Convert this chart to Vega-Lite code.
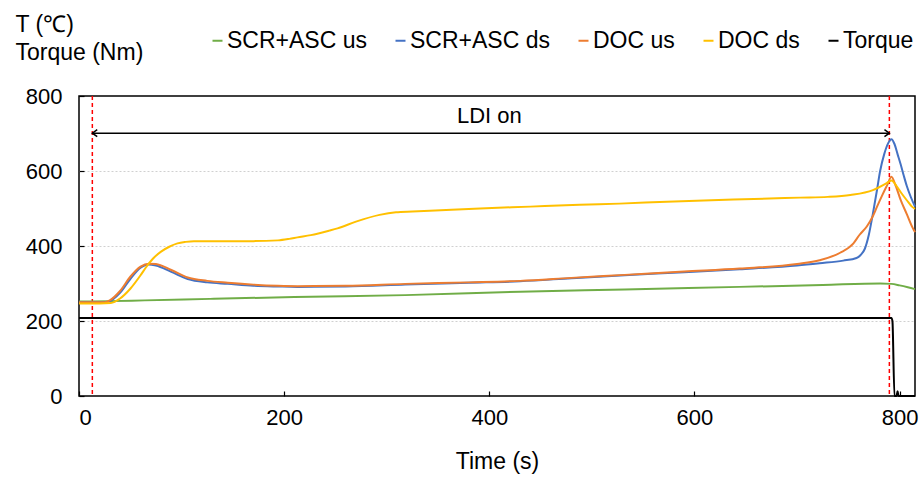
{
  "$schema": "https://vega.github.io/schema/vega-lite/v6.json",
  "width": 836,
  "height": 300,
  "autosize": {"type": "none"},
  "padding": {"left": 79, "top": 96, "right": 6, "bottom": 81},
  "background": "white",
  "config": {
    "font": "Liberation Sans",
    "view": {"stroke": "#000000", "strokeWidth": 1.5},
    "axis": {
      "labelFont": "Liberation Sans",
      "titleFont": "Liberation Sans",
      "labelFontSize": 22,
      "titleFontSize": 23,
      "labelColor": "#000000",
      "titleColor": "#000000",
      "titleFontWeight": "normal",
      "domain": false,
      "tickColor": "#000000",
      "tickWidth": 1.2
    },
    "legend": {
      "labelFont": "Liberation Sans",
      "labelFontSize": 23,
      "labelColor": "#000000"
    }
  },
  "datasets": {
    "series": [
      {"t": 0, "v": 208, "s": "Torque"},
      {"t": 792, "v": 208, "s": "Torque"},
      {"t": 793, "v": 200, "s": "Torque"},
      {"t": 795, "v": 0, "s": "Torque"},
      {"t": 797, "v": 0, "s": "Torque"},
      {"t": 798, "v": 13, "s": "Torque"},
      {"t": 799, "v": 0, "s": "Torque"},
      {"t": 815, "v": 0, "s": "Torque"},

      {"t": 0, "v": 252, "s": "SCR+ASC us"},
      {"t": 30, "v": 253, "s": "SCR+ASC us"},
      {"t": 64, "v": 255, "s": "SCR+ASC us"},
      {"t": 128, "v": 259, "s": "SCR+ASC us"},
      {"t": 210, "v": 264, "s": "SCR+ASC us"},
      {"t": 318, "v": 269, "s": "SCR+ASC us"},
      {"t": 430, "v": 278, "s": "SCR+ASC us"},
      {"t": 532, "v": 284, "s": "SCR+ASC us"},
      {"t": 644, "v": 291, "s": "SCR+ASC us"},
      {"t": 725, "v": 296, "s": "SCR+ASC us"},
      {"t": 781, "v": 300, "s": "SCR+ASC us"},
      {"t": 792, "v": 299, "s": "SCR+ASC us"},
      {"t": 800, "v": 295, "s": "SCR+ASC us"},
      {"t": 808, "v": 290, "s": "SCR+ASC us"},
      {"t": 815, "v": 285, "s": "SCR+ASC us"},

      {"t": 0, "v": 250, "s": "SCR+ASC ds"},
      {"t": 20, "v": 250, "s": "SCR+ASC ds"},
      {"t": 28, "v": 251, "s": "SCR+ASC ds"},
      {"t": 40, "v": 275, "s": "SCR+ASC ds"},
      {"t": 50, "v": 312, "s": "SCR+ASC ds"},
      {"t": 60, "v": 342, "s": "SCR+ASC ds"},
      {"t": 68, "v": 351, "s": "SCR+ASC ds"},
      {"t": 75, "v": 348, "s": "SCR+ASC ds"},
      {"t": 90, "v": 331, "s": "SCR+ASC ds"},
      {"t": 106, "v": 312, "s": "SCR+ASC ds"},
      {"t": 125, "v": 303, "s": "SCR+ASC ds"},
      {"t": 145, "v": 299, "s": "SCR+ASC ds"},
      {"t": 170, "v": 294, "s": "SCR+ASC ds"},
      {"t": 194, "v": 292, "s": "SCR+ASC ds"},
      {"t": 213, "v": 291, "s": "SCR+ASC ds"},
      {"t": 260, "v": 292, "s": "SCR+ASC ds"},
      {"t": 318, "v": 297, "s": "SCR+ASC ds"},
      {"t": 380, "v": 302, "s": "SCR+ASC ds"},
      {"t": 430, "v": 306, "s": "SCR+ASC ds"},
      {"t": 480, "v": 314, "s": "SCR+ASC ds"},
      {"t": 532, "v": 322, "s": "SCR+ASC ds"},
      {"t": 590, "v": 330, "s": "SCR+ASC ds"},
      {"t": 644, "v": 338, "s": "SCR+ASC ds"},
      {"t": 700, "v": 348, "s": "SCR+ASC ds"},
      {"t": 722, "v": 354, "s": "SCR+ASC ds"},
      {"t": 745, "v": 361, "s": "SCR+ASC ds"},
      {"t": 758, "v": 368, "s": "SCR+ASC ds"},
      {"t": 762, "v": 376, "s": "SCR+ASC ds"},
      {"t": 766, "v": 392, "s": "SCR+ASC ds"},
      {"t": 770, "v": 430, "s": "SCR+ASC ds"},
      {"t": 774, "v": 487, "s": "SCR+ASC ds"},
      {"t": 778, "v": 550, "s": "SCR+ASC ds"},
      {"t": 781, "v": 600, "s": "SCR+ASC ds"},
      {"t": 785, "v": 645, "s": "SCR+ASC ds"},
      {"t": 789, "v": 675, "s": "SCR+ASC ds"},
      {"t": 792, "v": 685, "s": "SCR+ASC ds"},
      {"t": 795, "v": 672, "s": "SCR+ASC ds"},
      {"t": 798, "v": 645, "s": "SCR+ASC ds"},
      {"t": 801, "v": 618, "s": "SCR+ASC ds"},
      {"t": 804, "v": 588, "s": "SCR+ASC ds"},
      {"t": 807, "v": 560, "s": "SCR+ASC ds"},
      {"t": 811, "v": 530, "s": "SCR+ASC ds"},
      {"t": 815, "v": 505, "s": "SCR+ASC ds"},

      {"t": 0, "v": 250, "s": "DOC us"},
      {"t": 25, "v": 250, "s": "DOC us"},
      {"t": 30, "v": 255, "s": "DOC us"},
      {"t": 40, "v": 280, "s": "DOC us"},
      {"t": 50, "v": 318, "s": "DOC us"},
      {"t": 60, "v": 345, "s": "DOC us"},
      {"t": 68, "v": 353, "s": "DOC us"},
      {"t": 75, "v": 352, "s": "DOC us"},
      {"t": 90, "v": 336, "s": "DOC us"},
      {"t": 106, "v": 316, "s": "DOC us"},
      {"t": 125, "v": 307, "s": "DOC us"},
      {"t": 145, "v": 302, "s": "DOC us"},
      {"t": 170, "v": 297, "s": "DOC us"},
      {"t": 194, "v": 294, "s": "DOC us"},
      {"t": 213, "v": 293, "s": "DOC us"},
      {"t": 260, "v": 294, "s": "DOC us"},
      {"t": 318, "v": 299, "s": "DOC us"},
      {"t": 380, "v": 303, "s": "DOC us"},
      {"t": 430, "v": 307, "s": "DOC us"},
      {"t": 480, "v": 315, "s": "DOC us"},
      {"t": 532, "v": 323, "s": "DOC us"},
      {"t": 590, "v": 332, "s": "DOC us"},
      {"t": 644, "v": 340, "s": "DOC us"},
      {"t": 700, "v": 352, "s": "DOC us"},
      {"t": 722, "v": 362, "s": "DOC us"},
      {"t": 742, "v": 382, "s": "DOC us"},
      {"t": 755, "v": 407, "s": "DOC us"},
      {"t": 761, "v": 430, "s": "DOC us"},
      {"t": 768, "v": 452, "s": "DOC us"},
      {"t": 774, "v": 480, "s": "DOC us"},
      {"t": 778, "v": 505, "s": "DOC us"},
      {"t": 783, "v": 535, "s": "DOC us"},
      {"t": 788, "v": 563, "s": "DOC us"},
      {"t": 792, "v": 585, "s": "DOC us"},
      {"t": 796, "v": 562, "s": "DOC us"},
      {"t": 801, "v": 523, "s": "DOC us"},
      {"t": 807, "v": 485, "s": "DOC us"},
      {"t": 813, "v": 447, "s": "DOC us"},
      {"t": 815, "v": 437, "s": "DOC us"},

      {"t": 0, "v": 247, "s": "DOC ds"},
      {"t": 20, "v": 247, "s": "DOC ds"},
      {"t": 31, "v": 248, "s": "DOC ds"},
      {"t": 40, "v": 260, "s": "DOC ds"},
      {"t": 50, "v": 286, "s": "DOC ds"},
      {"t": 60, "v": 322, "s": "DOC ds"},
      {"t": 65, "v": 342, "s": "DOC ds"},
      {"t": 72, "v": 366, "s": "DOC ds"},
      {"t": 80, "v": 385, "s": "DOC ds"},
      {"t": 88, "v": 398, "s": "DOC ds"},
      {"t": 96, "v": 407, "s": "DOC ds"},
      {"t": 104, "v": 411, "s": "DOC ds"},
      {"t": 112, "v": 413, "s": "DOC ds"},
      {"t": 140, "v": 413, "s": "DOC ds"},
      {"t": 170, "v": 413, "s": "DOC ds"},
      {"t": 194, "v": 415, "s": "DOC ds"},
      {"t": 205, "v": 419, "s": "DOC ds"},
      {"t": 213, "v": 423, "s": "DOC ds"},
      {"t": 226, "v": 429, "s": "DOC ds"},
      {"t": 244, "v": 441, "s": "DOC ds"},
      {"t": 252, "v": 447, "s": "DOC ds"},
      {"t": 270, "v": 465, "s": "DOC ds"},
      {"t": 293, "v": 483, "s": "DOC ds"},
      {"t": 309, "v": 490, "s": "DOC ds"},
      {"t": 325, "v": 492, "s": "DOC ds"},
      {"t": 342, "v": 494, "s": "DOC ds"},
      {"t": 391, "v": 500, "s": "DOC ds"},
      {"t": 440, "v": 505, "s": "DOC ds"},
      {"t": 488, "v": 510, "s": "DOC ds"},
      {"t": 527, "v": 513, "s": "DOC ds"},
      {"t": 573, "v": 518, "s": "DOC ds"},
      {"t": 638, "v": 524, "s": "DOC ds"},
      {"t": 703, "v": 529, "s": "DOC ds"},
      {"t": 730, "v": 531, "s": "DOC ds"},
      {"t": 752, "v": 536, "s": "DOC ds"},
      {"t": 774, "v": 549, "s": "DOC ds"},
      {"t": 787, "v": 567, "s": "DOC ds"},
      {"t": 792, "v": 575, "s": "DOC ds"},
      {"t": 797, "v": 560, "s": "DOC ds"},
      {"t": 802, "v": 540, "s": "DOC ds"},
      {"t": 807, "v": 522, "s": "DOC ds"},
      {"t": 812, "v": 505, "s": "DOC ds"},
      {"t": 815, "v": 499, "s": "DOC ds"}
    ],
    "markers": [{"t": 13}, {"t": 790}],
    "span": [{"t1": 13, "t2": 790, "v": 701}],
    "heads": [
      {"t": 13, "v": 701, "dir": "left"},
      {"t": 790, "v": 701, "dir": "right"}
    ],
    "labels": [{"t": 400, "v": 748, "label": "LDI on"}]
  },
  "layer": [
    {
      "data": {"name": "markers"},
      "mark": {"type": "rule", "color": "#FF0000", "strokeWidth": 1.5, "strokeDash": [4, 3]},
      "encoding": {
        "x": {"field": "t", "type": "quantitative", "scale": {"domain": [0, 815], "nice": false},
          "axis": {
            "title": "Time (s)",
            "values": [0, 200, 400, 600, 800],
            "format": "d",
            "tickSize": -5,
            "labelPadding": 16,
            "grid": false,
            "titlePadding": 22
          }}
      }
    },
    {
      "data": {"name": "series"},
      "mark": {"type": "line", "strokeWidth": 2, "interpolate": "monotone"},
      "encoding": {
        "x": {"field": "t", "type": "quantitative"},
        "y": {"field": "v", "type": "quantitative", "scale": {"domain": [0, 800], "nice": false},
          "axis": {
            "title": ["T (℃)", "Torque (Nm)"],
            "titleAngle": 0,
            "titleAlign": "left",
            "titleBaseline": "alphabetic",
            "titleX": -64,
            "titleY": -65,
            "titleLineHeight": 28,
            "values": [0, 200, 400, 600, 800],
            "tickSize": -5,
            "labelPadding": 22,
            "grid": true,
            "gridColor": "#D0D0D0",
            "gridDash": [2, 2],
            "gridWidth": 1,
            "gridOpacity": {"condition": {"test": "datum.value > 0 && datum.value < 800", "value": 1}, "value": 0}
          }},
        "color": {
          "field": "s",
          "type": "nominal",
          "scale": {
            "domain": ["SCR+ASC us", "SCR+ASC ds", "DOC us", "DOC ds", "Torque"],
            "range": ["#70AD47", "#4472C4", "#ED7D31", "#FFC000", "#000000"]
          },
          "legend": {
            "title": null,
            "orient": "none",
            "direction": "horizontal",
            "legendX": 127,
            "legendY": -67,
            "symbolType": "stroke",
            "symbolSize": 100,
            "symbolStrokeWidth": 2,
            "labelOffset": -2,
            "columnPadding": 22,
            "labelFontSize": 23
          }
        }
      }
    },
    {
      "data": {"name": "span"},
      "mark": {"type": "rule", "color": "#000000", "strokeWidth": 1.5},
      "encoding": {
        "x": {"field": "t1", "type": "quantitative"},
        "x2": {"field": "t2"},
        "y": {"field": "v", "type": "quantitative"}
      }
    },
    {
      "data": {"name": "heads"},
      "mark": {"type": "point", "filled": false, "stroke": "#000000", "strokeWidth": 1.5, "size": 49, "opacity": 1},
      "encoding": {
        "x": {"field": "t", "type": "quantitative"},
        "y": {"field": "v", "type": "quantitative"},
        "shape": {"field": "dir", "type": "nominal",
          "scale": {"domain": ["left", "right"], "range": ["M1.4,-1L0,0L1.4,1", "M-1.4,-1L0,0L-1.4,1"]},
          "legend": null}
      }
    },
    {
      "data": {"name": "labels"},
      "mark": {"type": "text", "fontSize": 22, "font": "Liberation Sans", "color": "#000000", "baseline": "middle", "align": "center"},
      "encoding": {
        "x": {"field": "t", "type": "quantitative"},
        "y": {"field": "v", "type": "quantitative"},
        "text": {"field": "label"}
      }
    }
  ]
}
